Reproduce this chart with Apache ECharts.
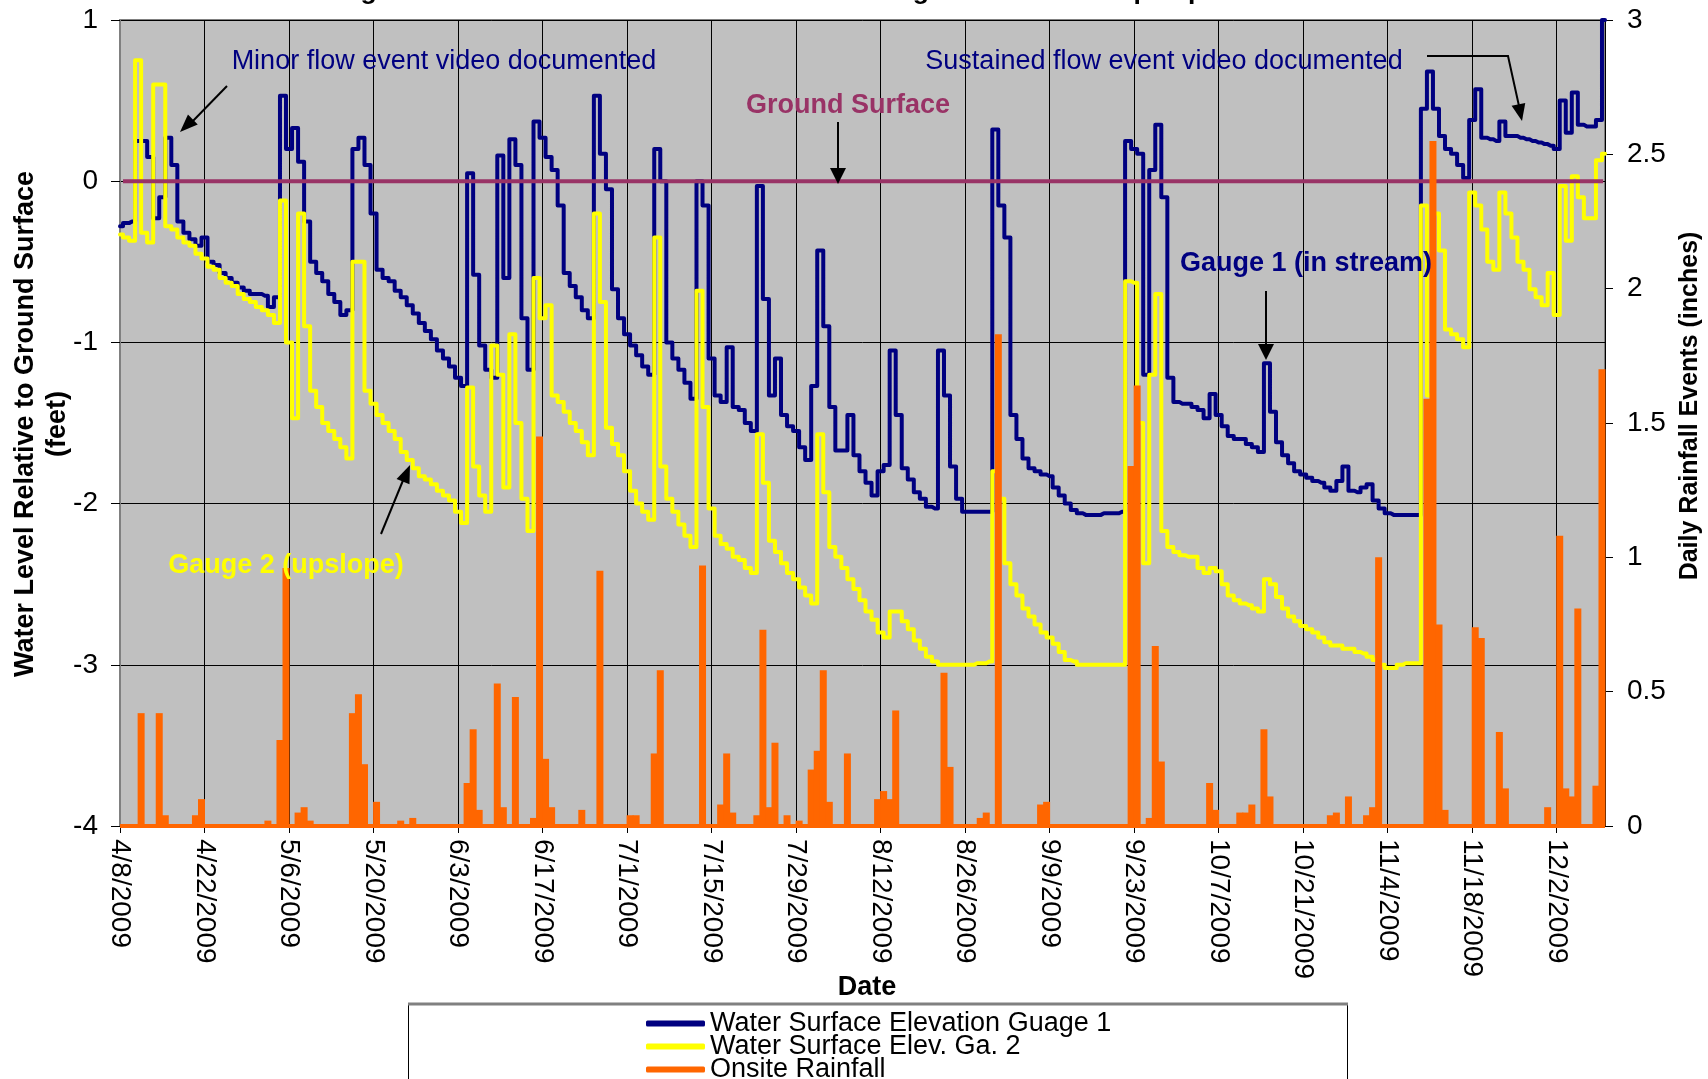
<!DOCTYPE html>
<html><head><meta charset="utf-8">
<script src="https://cdn.jsdelivr.net/npm/echarts@6/dist/echarts.min.js"></script>
<style>html,body{margin:0;padding:0;background:#fff;}#chart{width:1708px;height:1079px;}</style>
</head><body><div id="chart"></div>
<script>
// Day 0 = 4/8/2009, one value per day through 12/10/2009
const startDate = Date.UTC(2009, 3, 8);
const DAY = 86400000;
const tickStepDays = 14;

// Water Surface Elevation Gauge 1 (feet relative to ground surface)
const gauge1 = [
 -0.28,-0.26,-0.25,0.25,0.25,0.15,-0.23,-0.1,0.27,0.1,
 -0.25,-0.32,-0.36,-0.4,-0.35,-0.5,-0.52,-0.57,-0.6,-0.63,
 -0.66,-0.68,-0.7,-0.7,-0.71,-0.78,-0.72,0.53,0.2,0.33,
 0.12,-0.25,-0.5,-0.57,-0.62,-0.7,-0.75,-0.83,-0.8,0.2,
 0.27,0.1,-0.2,-0.55,-0.6,-0.62,-0.68,-0.72,-0.77,-0.82,
 -0.88,-0.93,-0.98,-1.05,-1.1,-1.15,-1.22,-1.27,0.05,-0.58,
 -1.02,-1.17,-1.22,0.16,-0.6,0.26,0.1,-0.85,-1.17,0.37,
 0.27,0.15,0.07,-0.15,-0.57,-0.65,-0.72,-0.8,-0.85,0.53,
 0.17,-0.05,-0.67,-0.85,-0.95,-1.02,-1.08,-1.15,-1.2,0.2,
 0,-1.0,-1.1,-1.17,-1.25,-1.35,0,-0.15,-1.1,-1.33,
 -1.37,-1.03,-1.4,-1.42,-1.5,-1.55,-0.03,-0.73,-1.33,-1.1,
 -1.45,-1.52,-1.55,-1.65,-1.73,-1.27,-0.43,-0.9,-1.4,-1.67,
 -1.67,-1.45,-1.7,-1.8,-1.87,-1.95,-1.8,-1.76,-1.05,-1.45,
 -1.78,-1.85,-1.93,-1.97,-2.02,-2.03,-1.05,-1.33,-1.77,-1.97,
 -2.05,-2.05,-2.05,-2.05,-2.05,0.32,-0.15,-0.35,-1.45,-1.6,
 -1.72,-1.78,-1.8,-1.82,-1.83,-1.9,-1.95,-2.0,-2.04,-2.06,
 -2.07,-2.07,-2.07,-2.06,-2.06,-2.06,-2.05,0.25,0.2,0.17,
 -1.2,0.07,0.35,-0.1,-1.22,-1.37,-1.38,-1.38,-1.4,-1.42,
 -1.47,-1.32,-1.45,-1.52,-1.58,-1.6,-1.6,-1.63,-1.65,-1.68,
 -1.13,-1.43,-1.62,-1.7,-1.75,-1.8,-1.82,-1.84,-1.86,-1.87,
 -1.9,-1.92,-1.86,-1.77,-1.92,-1.93,-1.9,-1.88,-1.98,-2.03,
 -2.06,-2.07,-2.07,-2.07,-2.07,-2.07,0.45,0.68,0.45,0.28,
 0.2,0.17,0.1,0.02,0.38,0.57,0.27,0.26,0.25,0.37,
 0.28,0.28,0.27,0.26,0.25,0.24,0.23,0.22,0.2,0.5,
 0.3,0.55,0.35,0.34,0.34,0.38,1.0
];

// Water Surface Elev. Gauge 2 (feet relative to ground surface)
const gauge2 = [
 -0.33,-0.35,-0.37,0.75,-0.32,-0.38,0.6,0.6,-0.28,-0.3,
 -0.35,-0.38,-0.4,-0.45,-0.48,-0.53,-0.55,-0.6,-0.63,-0.65,
 -0.7,-0.73,-0.75,-0.78,-0.8,-0.83,-0.88,-0.12,-1.0,-1.47,
 -0.2,-0.9,-1.3,-1.4,-1.5,-1.55,-1.6,-1.65,-1.72,-0.5,
 -0.5,-1.3,-1.38,-1.45,-1.5,-1.55,-1.6,-1.68,-1.73,-1.78,
 -1.83,-1.85,-1.88,-1.92,-1.95,-1.98,-2.05,-2.12,-1.28,-1.77,
 -1.95,-2.05,-1.02,-1.2,-1.9,-0.95,-1.5,-1.97,-2.17,-0.6,
 -0.85,-0.77,-1.33,-1.37,-1.43,-1.5,-1.55,-1.62,-1.7,-0.2,
 -0.75,-1.53,-1.63,-1.7,-1.8,-1.92,-2.0,-2.05,-2.1,-0.35,
 -1.77,-1.97,-2.05,-2.13,-2.2,-2.27,-0.68,-1.4,-2.03,-2.2,
 -2.25,-2.28,-2.33,-2.35,-2.4,-2.43,-1.57,-1.87,-2.23,-2.3,
 -2.37,-2.43,-2.47,-2.52,-2.57,-2.62,-1.57,-1.93,-2.27,-2.33,
 -2.4,-2.47,-2.53,-2.6,-2.67,-2.72,-2.8,-2.83,-2.67,-2.67,
 -2.73,-2.78,-2.85,-2.9,-2.95,-2.98,-3.0,-3.0,-3.0,-3.0,
 -3.0,-3.0,-2.99,-2.99,-2.98,-1.8,-1.97,-2.37,-2.5,-2.57,
 -2.65,-2.7,-2.75,-2.8,-2.83,-2.87,-2.92,-2.97,-2.98,-3.0,
 -3.0,-3.0,-3.0,-3.0,-3.0,-3.0,-3.0,-0.62,-0.63,-1.5,
 -2.37,-1.2,-0.7,-2.17,-2.27,-2.3,-2.32,-2.33,-2.33,-2.4,
 -2.43,-2.4,-2.42,-2.5,-2.57,-2.6,-2.62,-2.63,-2.65,-2.67,
 -2.47,-2.5,-2.58,-2.65,-2.7,-2.73,-2.76,-2.78,-2.8,-2.83,
 -2.86,-2.88,-2.88,-2.9,-2.9,-2.92,-2.93,-2.95,-2.97,-3.0,
 -3.02,-3.02,-3.0,-2.99,-2.99,-2.99,-0.15,-1.33,-0.2,-0.43,
 -0.92,-0.95,-0.98,-1.03,-0.07,-0.15,-0.3,-0.5,-0.55,-0.07,
 -0.2,-0.35,-0.5,-0.55,-0.67,-0.72,-0.77,-0.57,-0.83,-0.03,
 -0.37,0.03,-0.1,-0.23,-0.23,0.13,0.17
];

// Onsite Rainfall (inches per day)
const rainfall = [
 0,0,0,0.42,0,0,0.42,0.04,0,0,
 0,0,0.04,0.1,0,0,0,0,0,0,
 0,0,0,0,0.02,0,0.32,0.96,0,0.05,
 0.07,0.02,0,0,0,0,0,0,0.42,0.49,
 0.23,0,0.09,0,0,0,0.02,0,0.03,0,
 0,0,0,0,0,0,0,0.16,0.36,0.06,
 0,0,0.53,0.07,0,0.48,0,0,0.03,1.45,
 0.25,0.07,0,0,0,0,0.06,0,0,0.95,
 0,0,0,0,0.04,0.04,0,0,0.27,0.58,
 0,0,0,0,0,0,0.97,0,0,0.08,
 0.27,0.05,0,0,0,0.04,0.73,0.07,0.31,0,
 0.04,0,0.02,0,0.21,0.28,0.58,0.09,0,0,
 0.27,0,0,0,0,0.1,0.13,0.1,0.43,0,
 0,0,0,0,0,0,0.57,0.22,0,0,
 0,0,0.03,0.05,0,1.83,0,0,0,0,
 0,0,0.08,0.09,0,0,0,0,0,0,
 0,0,0,0,0,0,0,1.34,1.64,0,
 0.03,0.67,0.24,0,0,0,0,0,0,0,
 0.16,0.06,0,0,0,0.05,0.05,0.08,0,0.36,
 0.11,0,0,0,0,0,0,0,0,0,
 0.04,0.05,0,0.11,0,0,0.04,0.07,1.0,0,
 0,0,0,0,0,0,1.59,2.55,0.75,0.06,
 0,0,0,0,0.74,0.7,0,0,0.35,0.14,
 0,0,0,0,0,0,0.07,0,1.08,0.14,
 0.11,0.81,0,0,0.15,1.7
];

// Ground surface reference line (day offsets, level in feet)
const groundDays = [0.5, 245.7];
const groundLevel = [0, 0];
// zero-rain baseline of the rainfall trace (day offsets, inches)
const rainBaseDays = [0, 246];
const rainBaseLevel = [0, 0];

const leftTicks = { min: -4, max: 1, interval: 1 };
const rightTicks = { min: 0, max: 3, interval: 0.5 };
const dayMax = 246;

function dateLabel(d) {
  const t = new Date(startDate + d * DAY);
  return (t.getUTCMonth() + 1) + '/' + t.getUTCDate() + '/' + t.getUTCFullYear();
}
const FONT = 'Liberation Sans, Arial, sans-serif';

const chart = echarts.init(document.getElementById('chart'), null, { renderer: 'canvas' });

function arrowHead(tx, ty, fx, fy, len, half) {
  const dx = tx - fx, dy = ty - fy, L = Math.hypot(dx, dy);
  const ux = dx / L, uy = dy / L;
  const bx = tx - ux * len, by = ty - uy * len;
  return {
    type: 'polygon',
    shape: { points: [[tx, ty], [bx - uy * half, by + ux * half], [bx + uy * half, by - ux * half]] },
    style: { fill: '#000' }, z: 100
  };
}
function arrowLine(points) {
  return { type: 'polyline', shape: { points: points }, style: { stroke: '#000', lineWidth: 2, fill: null }, z: 100 };
}
function txt(x, y, text, opts) {
  return {
    type: 'text', x: x, y: y, rotation: opts.rotation || 0, z: 100,
    style: {
      text: text, x: 0, y: 0, align: 'center', verticalAlign: opts.va || 'middle',
      fill: opts.color || '#000', font: (opts.weight || 'normal') + ' ' + (opts.size || 27) + 'px ' + FONT
    }
  };
}

const graphicEls = [
  // chart title (cut off at the top in the source)
  txt(892, 5, 'Gauge #1 is located in the stream channel - Gauge #2 is located upslope outside the channel', { weight: 'bold', size: 26.5, va: 'bottom' }),
  // axis titles
  txt(26, 424, 'Water Level Relative to Ground Surface', { weight: 'bold', size: 27, rotation: Math.PI / 2 }),
  txt(58, 424, '(feet)', { weight: 'bold', size: 27, rotation: Math.PI / 2 }),
  txt(1690, 406, 'Daily Rainfall Events (inches)', { weight: 'bold', size: 25, rotation: Math.PI / 2 }),
  txt(867, 988, 'Date', { weight: 'bold', size: 27 }),
  // annotations
  txt(444, 62, 'Minor flow event video documented', { color: '#000080', size: 27 }),
  txt(848, 106, 'Ground Surface', { color: '#993366', weight: 'bold', size: 27 }),
  txt(1164, 62, 'Sustained flow event video documented', { color: '#000080', size: 27 }),
  txt(1306, 264, 'Gauge 1 (in stream)', { color: '#000080', weight: 'bold', size: 27 }),
  txt(286, 566, 'Gauge 2 (upslope)', { color: '#FFFF00', weight: 'bold', size: 27 }),
  // arrows
  arrowLine([[227, 86], [190, 124]]), arrowHead(180, 132, 227, 86, 18, 7),
  arrowLine([[838, 122], [838, 170]]), arrowHead(838, 184, 838, 122, 16, 8),
  arrowLine([[1427, 56], [1508, 56], [1519, 106]]), arrowHead(1522, 121, 1508, 56, 17, 7),
  arrowLine([[1266, 291], [1266, 345]]), arrowHead(1266, 360, 1266, 291, 16, 8),
  arrowLine([[381, 534], [404, 478]]), arrowHead(410, 465, 381, 534, 18, 7),
  // legend box
  { type: 'rect', shape: { x: 408.5, y: 1003.5, width: 939, height: 120 }, style: { fill: '#fff', stroke: '#000', lineWidth: 1 }, z: 1 },
  { type: 'line', shape: { x1: 408, y1: 1004, x2: 1348, y2: 1004 }, style: { stroke: '#808080', lineWidth: 3 }, z: 2 }
];

const option = {
  animation: false,
  backgroundColor: '#ffffff',
  textStyle: { fontFamily: FONT },
  grid: {
    left: 120, right: 103, top: 20, bottom: 253,
    show: true, backgroundColor: '#C0C0C0', borderColor: '#808080', borderWidth: 2,
    containLabel: false, outerBoundsMode: 'none'
  },
  legend: {
    data: ['Water Surface Elevation Guage 1', 'Water Surface Elev. Ga. 2', 'Onsite Rainfall'],
    orient: 'vertical', left: 646, top: 1010, height: 200, padding: 0, itemGap: -4,
    icon: 'roundRect', itemWidth: 59, itemHeight: 6,
    textStyle: { fontSize: 27, color: '#000', fontFamily: FONT, lineHeight: 23 },
    z: 10
  },
  xAxis: {
    type: 'value', min: 0, max: dayMax, interval: tickStepDays,
    axisLine: { show: true, onZero: false, lineStyle: { color: '#000', width: 1 } },
    axisTick: { show: true, inside: false, length: 7, lineStyle: { color: '#000' } },
    axisLabel: {
      rotate: -90, margin: 13, fontSize: 28, color: '#000', fontFamily: FONT,
      showMaxLabel: false, hideOverlap: false,
      formatter: v => (v % tickStepDays === 0 ? dateLabel(v) : '')
    },
    splitLine: { show: true, lineStyle: { color: '#000', width: 1 } }
  },
  yAxis: [
    {
      type: 'value', min: leftTicks.min, max: leftTicks.max, interval: leftTicks.interval, position: 'left',
      axisLine: { show: true, lineStyle: { color: '#808080', width: 2 } },
      axisTick: { show: true, inside: false, length: 9, lineStyle: { color: '#000' } },
      axisLabel: { margin: 22, fontSize: 28, color: '#000', fontFamily: FONT },
      splitLine: { show: true, lineStyle: { color: '#000', width: 1 } }
    },
    {
      type: 'value', min: rightTicks.min, max: rightTicks.max, interval: rightTicks.interval, position: 'right',
      axisLine: { show: true, lineStyle: { color: '#000', width: 1 } },
      axisTick: { show: true, inside: false, length: 8, lineStyle: { color: '#000' } },
      axisLabel: { margin: 22, fontSize: 28, color: '#000', fontFamily: FONT },
      splitLine: { show: false }
    }
  ],
  series: [
    {
      name: 'Water Surface Elevation Guage 1', type: 'line', yAxisIndex: 0, step: 'middle',
      data: gauge1.map((v, i) => [i, v]), symbol: 'none', color: '#000080',
      lineStyle: { color: '#000080', width: 4, join: 'round', cap: 'round' }, z: 2
    },
    {
      name: 'Water Surface Elev. Ga. 2', type: 'line', yAxisIndex: 0, step: 'middle',
      data: gauge2.map((v, i) => [i, v]), symbol: 'none', color: '#FFFF00',
      lineStyle: { color: '#FFFF00', width: 4, join: 'round', cap: 'round' }, z: 3
    },
    {
      name: 'Ground Surface', type: 'line', yAxisIndex: 0,
      data: groundDays.map((d, i) => [d, groundLevel[i]]), symbol: 'none', color: '#993366',
      lineStyle: { color: '#993366', width: 4 }, z: 4
    },
    {
      name: 'Onsite Rainfall', type: 'bar', yAxisIndex: 1,
      data: rainfall.map((v, i) => [i + 0.5, v]), barWidth: 7, color: '#FF6600',
      itemStyle: { color: '#FF6600' }, z: 5
    },
    {
      name: 'Onsite Rainfall', type: 'line', yAxisIndex: 1,
      data: rainBaseDays.map((d, i) => [d, rainBaseLevel[i]]), symbol: 'none', color: '#FF6600',
      lineStyle: { color: '#FF6600', width: 4 }, z: 5
    }
  ],
  graphic: { elements: graphicEls }
};
chart.setOption(option);
</script></body></html>
